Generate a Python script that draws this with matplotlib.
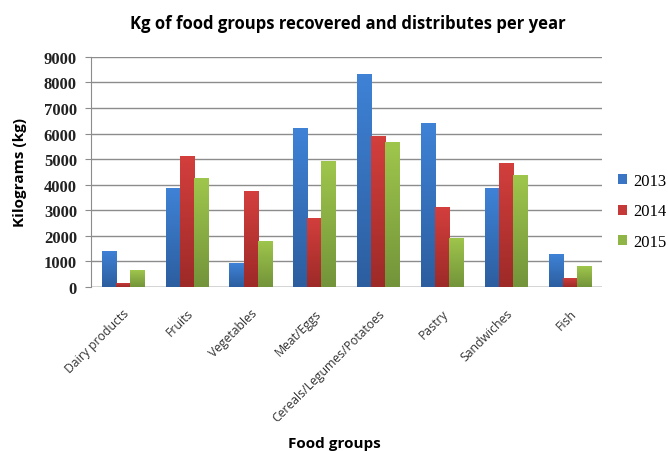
import matplotlib
matplotlib.use("Agg")
import matplotlib.pyplot as plt
import numpy as np
from matplotlib.colors import LinearSegmentedColormap

# data
categories = ["Dairy products", "Fruits", "Vegetables", "Meat/Eggs",
              "Cereals/Legumes/Potatoes", "Pastry", "Sandwiches", "Fish"]
years = ["2013", "2014", "2015"]
v2013 = [1410, 3860, 930, 6220, 8340, 6430, 3860, 1290]
v2014 = [170, 5140, 3740, 2700, 5890, 3130, 4860, 365]
v2015 = [650, 4260, 1810, 4940, 5660, 1930, 4380, 810]

# (top colour, bottom colour, legend colour)
colors = [("#3f82d6", "#2c5e9f", "#3a74c4"),
          ("#d33f3d", "#9d2a28", "#c53a38"),
          ("#9fc64c", "#73943a", "#90b547")]

fig = plt.figure(figsize=(6.68, 4.52), dpi=100)
ax = fig.add_axes([0.136, 0.363, 0.765, 0.509])

x = np.arange(len(categories))
w = 0.22
series = [v2013, v2014, v2015]
handles = []
for i, vals in enumerate(series):
    top, bot, leg = colors[i]
    cmap = LinearSegmentedColormap.from_list("g%d" % i, [bot, top])
    bars = ax.bar(x + (i - 1) * w, vals, w, color=leg, zorder=3, label=years[i])
    handles.append(bars)
    for b in bars:
        bx, by = b.get_x(), b.get_y()
        bw, bh = b.get_width(), b.get_height()
        grad = np.linspace(0, 1, 100).reshape(-1, 1)
        im = ax.imshow(grad, cmap=cmap, extent=[bx, bx + bw, by, by + bh],
                       origin="lower", aspect="auto", zorder=3.5)
        im.set_clip_path(b)

ax.set_xlim(-0.5, len(categories) - 0.5)
ax.set_ylim(0, 9000)
ax.set_yticks(np.arange(0, 9001, 1000))
ax.yaxis.grid(True, color="#8c8c8c", linewidth=1.0, zorder=0)
ax.set_axisbelow(True)
for s in ["top", "right", "bottom"]:
    ax.spines[s].set_visible(False)
ax.spines["left"].set_color("#8c8c8c")
ax.tick_params(axis="y", length=4, color="#8c8c8c", pad=6)
ax.tick_params(axis="x", length=0, pad=14)
ax.axhline(0, color="#8c8c8c", linewidth=1.0, zorder=2)

for lab in ax.get_yticklabels():
    lab.set_fontfamily("Liberation Serif")
    lab.set_fontsize(12)
    lab.set_fontweight("bold")
    lab.set_color("#222222")

ax.set_xticks(x)
ax.set_xticklabels(categories, rotation=45, ha="right", rotation_mode="anchor",
                   fontsize=8.8, family="Open Sans", color="#333333")

ax.set_ylabel("Kilograms (kg)", fontsize=11, fontweight="bold", family="Open Sans",
              labelpad=12)
fig.text(0.5, 0.003, "Food groups", ha="center", va="bottom", fontsize=11,
         fontweight="bold", family="Open Sans")
fig.text(0.52, 0.935, "Kg of food groups recovered and distributes per year",
         ha="center", fontsize=12, fontweight="bold", family="Open Sans")

leg = fig.legend(handles, years, loc="center left", bbox_to_anchor=(0.902, 0.53),
                 frameon=False, prop={"family": "Liberation Serif", "size": 12},
                 handlelength=0.55, handleheight=0.55, handletextpad=0.4,
                 labelspacing=0.85)

fig.savefig("out.png", dpi=100)
